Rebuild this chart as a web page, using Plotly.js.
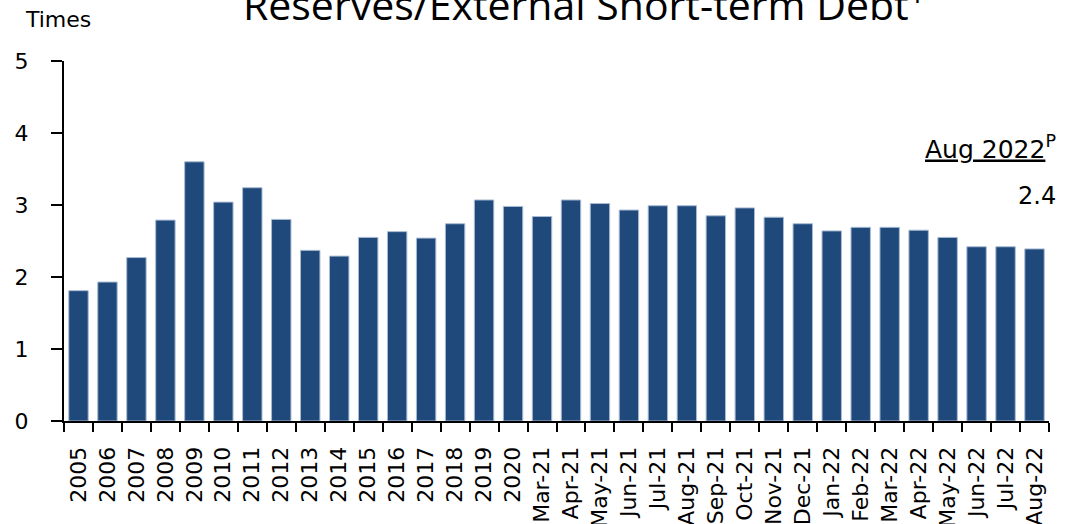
<!DOCTYPE html>
<html>
<head>
<meta charset="utf-8">
<script src="https://cdn.plot.ly/plotly-3.0.1.min.js"></script>
<style>html,body{margin:0;padding:0;background:#fff;}#chart{width:1076px;height:524px;}</style>
</head>
<body>
<div id="chart"></div>
<script>
const categories = ["2005","2006","2007","2008","2009","2010","2011","2012","2013","2014","2015","2016","2017","2018","2019","2020",
  "Mar-21","Apr-21","May-21","Jun-21","Jul-21","Aug-21","Sep-21","Oct-21","Nov-21","Dec-21",
  "Jan-22","Feb-22","Mar-22","Apr-22","May-22","Jun-22","Jul-22","Aug-22"];
const ratioValues = [1.81,1.93,2.27,2.79,3.60,3.04,3.24,2.80,2.37,2.29,2.55,2.63,2.54,2.74,3.07,2.98,
  2.84,3.07,3.02,2.93,2.99,2.99,2.85,2.96,2.83,2.74,
  2.64,2.69,2.69,2.65,2.55,2.42,2.42,2.39];
const yTickValues = [0,1,2,3,4,5];
const chartTitle = "Reserves/External Short-term Debt<sup>1</sup>";
const unitLabel = "Times";
const latestLabel = "Aug 2022";
const latestValueText = "2.4";

const FONT = "DejaVu Sans, Verdana, sans-serif";

const trace = {
  type: "bar",
  x: categories,
  y: ratioValues,
  marker: {color: "#1f487b", line: {color: "#a9bbd3", width: 1}},
  hoverinfo: "x+y"
};

const layout = {
  width: 1076, height: 524,
  margin: {l: 64, r: 27, t: 61, b: 103},
  paper_bgcolor: "#ffffff", plot_bgcolor: "#ffffff",
  showlegend: false,
  bargap: 0.33,
  font: {family: FONT, color: "#000", size: 22},
  xaxis: {
    type: "category",
    tickangle: -90,
    tickson: "boundaries",
    ticks: "outside", ticklen: 9, tickwidth: 2, tickcolor: "#000",
    showline: true, linecolor: "#000", linewidth: 2,
    showgrid: false, zeroline: false,
    tickfont: {family: FONT, size: 22, color: "#000"},
    ticklabelstandoff: 15,
    range: [-0.5, categories.length - 0.5]
  },
  yaxis: {
    range: [0, 5],
    tickvals: yTickValues,
    ticks: "outside", ticklen: 11, tickwidth: 2, tickcolor: "#000",
    showline: true, linecolor: "#000", linewidth: 2,
    showgrid: false, zeroline: false,
    tickfont: {family: FONT, size: 22, color: "#000"},
    ticklabelstandoff: 18
  },
  annotations: [
    {text: chartTitle, xref: "paper", yref: "paper", x: 0.528, y: (421 - 34) / 360 , xanchor: "center", yanchor: "bottom",
     showarrow: false, font: {family: "Open Sans, DejaVu Sans, sans-serif", size: 41, color: "#000"}},
    {text: unitLabel, xref: "paper", yref: "paper", x: (23 - 64) / 985, y: (421 - 5) / 360, xanchor: "left", yanchor: "top",
     showarrow: false, font: {family: FONT, size: 22, color: "#000"}},
    {text: "<span style='text-decoration:underline'>" + latestLabel + "</span><sup>P</sup>", xref: "paper", yref: "paper",
     x: (1058 - 64) / 985, y: (421 - 166) / 360, xanchor: "right", yanchor: "bottom",
     showarrow: false, font: {family: FONT, size: 25, color: "#000"}},
    {text: latestValueText, xref: "paper", yref: "paper",
     x: (1058 - 64) / 985, y: (421 - 180) / 360, xanchor: "right", yanchor: "top",
     showarrow: false, font: {family: FONT, size: 24, color: "#000"}}
  ]
};

Plotly.newPlot("chart", [trace], layout, {staticPlot: true, displayModeBar: false});
</script>
</body>
</html>
